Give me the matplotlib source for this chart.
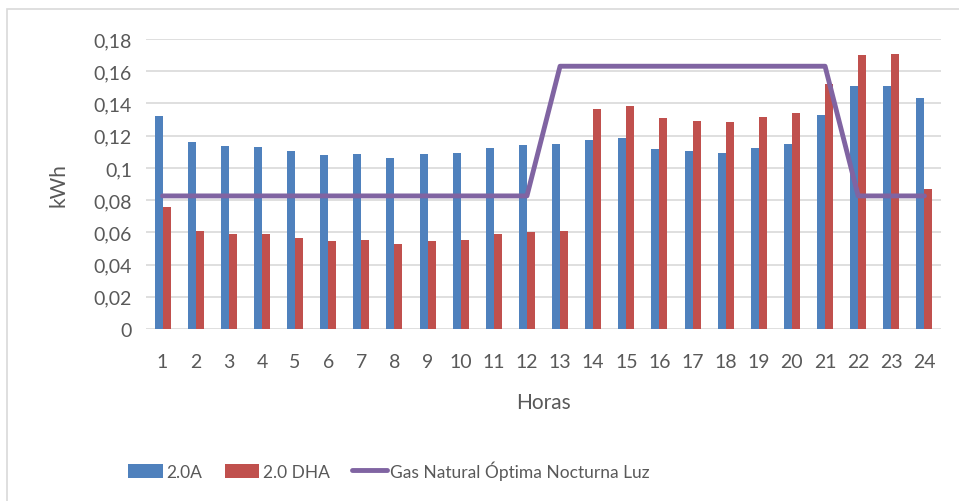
import numpy as np
import matplotlib.pyplot as plt
from matplotlib.patches import Rectangle
from matplotlib.ticker import FuncFormatter

plt.rcParams['font.family'] = ['Lato', 'DejaVu Sans']

# data
horas = list(range(1, 25))
tarifa_20a = [0.1322, 0.1159, 0.1138, 0.1132, 0.1103, 0.1082, 0.1088, 0.1061,
              0.1086, 0.1090, 0.1124, 0.1144, 0.1150, 0.1173, 0.1188, 0.1117,
              0.1103, 0.1092, 0.1124, 0.1150, 0.1330, 0.1506, 0.1508, 0.1434]
tarifa_20dha = [0.0759, 0.0608, 0.0590, 0.0588, 0.0563, 0.0544, 0.0550, 0.0528,
                0.0546, 0.0554, 0.0588, 0.0602, 0.0606, 0.1364, 0.1382, 0.1310,
                0.1293, 0.1283, 0.1314, 0.1341, 0.1521, 0.1703, 0.1707, 0.0867]
gas_natural = [0.0826] * 12 + [0.1631] * 9 + [0.0826] * 3

c_blue = '#4f81bd'
c_red = '#c0504d'
c_purple = '#8064a2'
c_text = '#595959'

fig = plt.figure(figsize=(9.59, 5.02), dpi=100)
ax = fig.add_axes([146/959, 1 - 330/502, 795/959, 290/502])

# outer chart border
fig.patches.append(Rectangle((7/959, -0.1), 1.2, 1 - 10/502 + 0.1,
                             transform=fig.transFigure, fill=False,
                             edgecolor='#d9d9d9', linewidth=1.2))

x = np.arange(len(horas))
w = 0.24
b1 = ax.bar(x - w/2, tarifa_20a, w, color=c_blue, label='2.0A', zorder=2)
b2 = ax.bar(x + w/2, tarifa_20dha, w, color=c_red, label='2.0 DHA', zorder=2)
l1, = ax.plot(x, gas_natural, color=c_purple, linewidth=3.5,
              solid_capstyle='round', label='Gas Natural Óptima Nocturna Luz', zorder=3)

ax.set_xlim(-0.5, len(horas) - 0.5)
ax.set_ylim(0, 0.18)
ax.set_yticks(np.arange(0, 0.181, 0.02))
ax.yaxis.set_major_formatter(FuncFormatter(lambda v, p: ('%g' % round(v, 2)).replace('.', ',')))
ax.set_xticks(x)
ax.set_xticklabels([str(h) for h in horas])
ax.grid(axis='y', color='#d9d9d9', linewidth=1.2, zorder=0)
ax.set_axisbelow(True)
for s in ax.spines.values():
    s.set_visible(False)
ax.tick_params(length=0, labelsize=14, colors=c_text)
ax.tick_params(axis='x', pad=17)
ax.tick_params(axis='y', pad=10)

ax.set_xlabel('Horas', fontsize=15, color=c_text, labelpad=16)
ax.set_ylabel('kWh', fontsize=15, color=c_text, labelpad=18)

fig.legend(handles=[b1, b2, l1], loc='center left', bbox_to_anchor=(128/959, 1 - 471/502),
           ncol=3, frameon=False, fontsize=12.5, labelcolor=c_text, handlelength=2.0,
           handleheight=0.85, handletextpad=0.2, columnspacing=1.3,
           borderpad=0, borderaxespad=0)

fig.savefig('out.png', dpi=100)
